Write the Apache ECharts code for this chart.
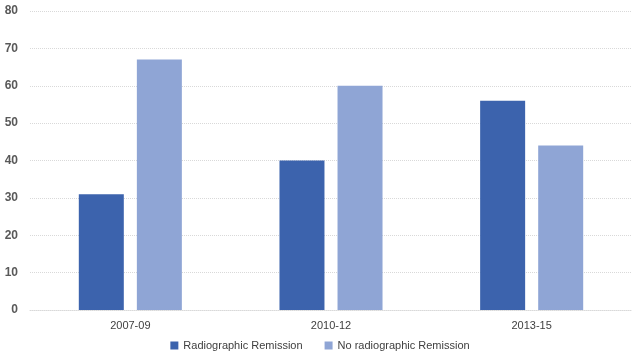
<!DOCTYPE html>
<html><head><meta charset="utf-8">
<script src="https://cdn.jsdelivr.net/npm/echarts@6/dist/echarts.min.js"></script>
<style>html,body{margin:0;padding:0;background:#fff}#c{width:640px;height:360px}</style>
</head><body><div id="c"></div>
<script>
const categories = ['2007-09', '2010-12', '2013-15'];
const seriesNames = ['Radiographic Remission', 'No radiographic Remission'];
const remission = [31, 40, 56];
const noRemission = [67, 60, 44];
const yTicks = { min: 0, max: 80, interval: 10 };

const chart = echarts.init(document.getElementById('c'));
chart.setOption({
  animation: false,
  grid: { left: 30, right: 8, top: 11, bottom: 50 },
  legend: {
    bottom: 4, left: 'center', itemWidth: 8, itemHeight: 8, itemGap: 22,
    icon: 'rect',
    textStyle: { fontFamily: 'Liberation Sans, Arial', fontSize: 11, color: '#404040' },
    data: seriesNames
  },
  xAxis: {
    type: 'category', data: categories,
    axisLine: { show: true, lineStyle: { color: '#d9d9d9', type: 'dotted' } },
    axisTick: { show: false },
    axisLabel: { fontFamily: 'Liberation Sans, Arial', fontSize: 11, color: '#404040', margin: 10 }
  },
  yAxis: {
    type: 'value', min: yTicks.min, max: yTicks.max, interval: yTicks.interval,
    axisLine: { show: false }, axisTick: { show: false },
    axisLabel: { fontFamily: 'Liberation Sans, Arial', fontSize: 12, fontWeight: 'bold', color: '#595959', margin: 12 },
    splitLine: { lineStyle: { color: '#d9d9d9', type: 'dotted' } }
  },
  series: [
    { name: seriesNames[0], type: 'bar', data: remission, barWidth: 45, barGap: '29%',
      itemStyle: { color: '#3c63ad' } },
    { name: seriesNames[1], type: 'bar', data: noRemission, barWidth: 45,
      itemStyle: { color: '#8fa5d5' } }
  ]
});
</script></body></html>
